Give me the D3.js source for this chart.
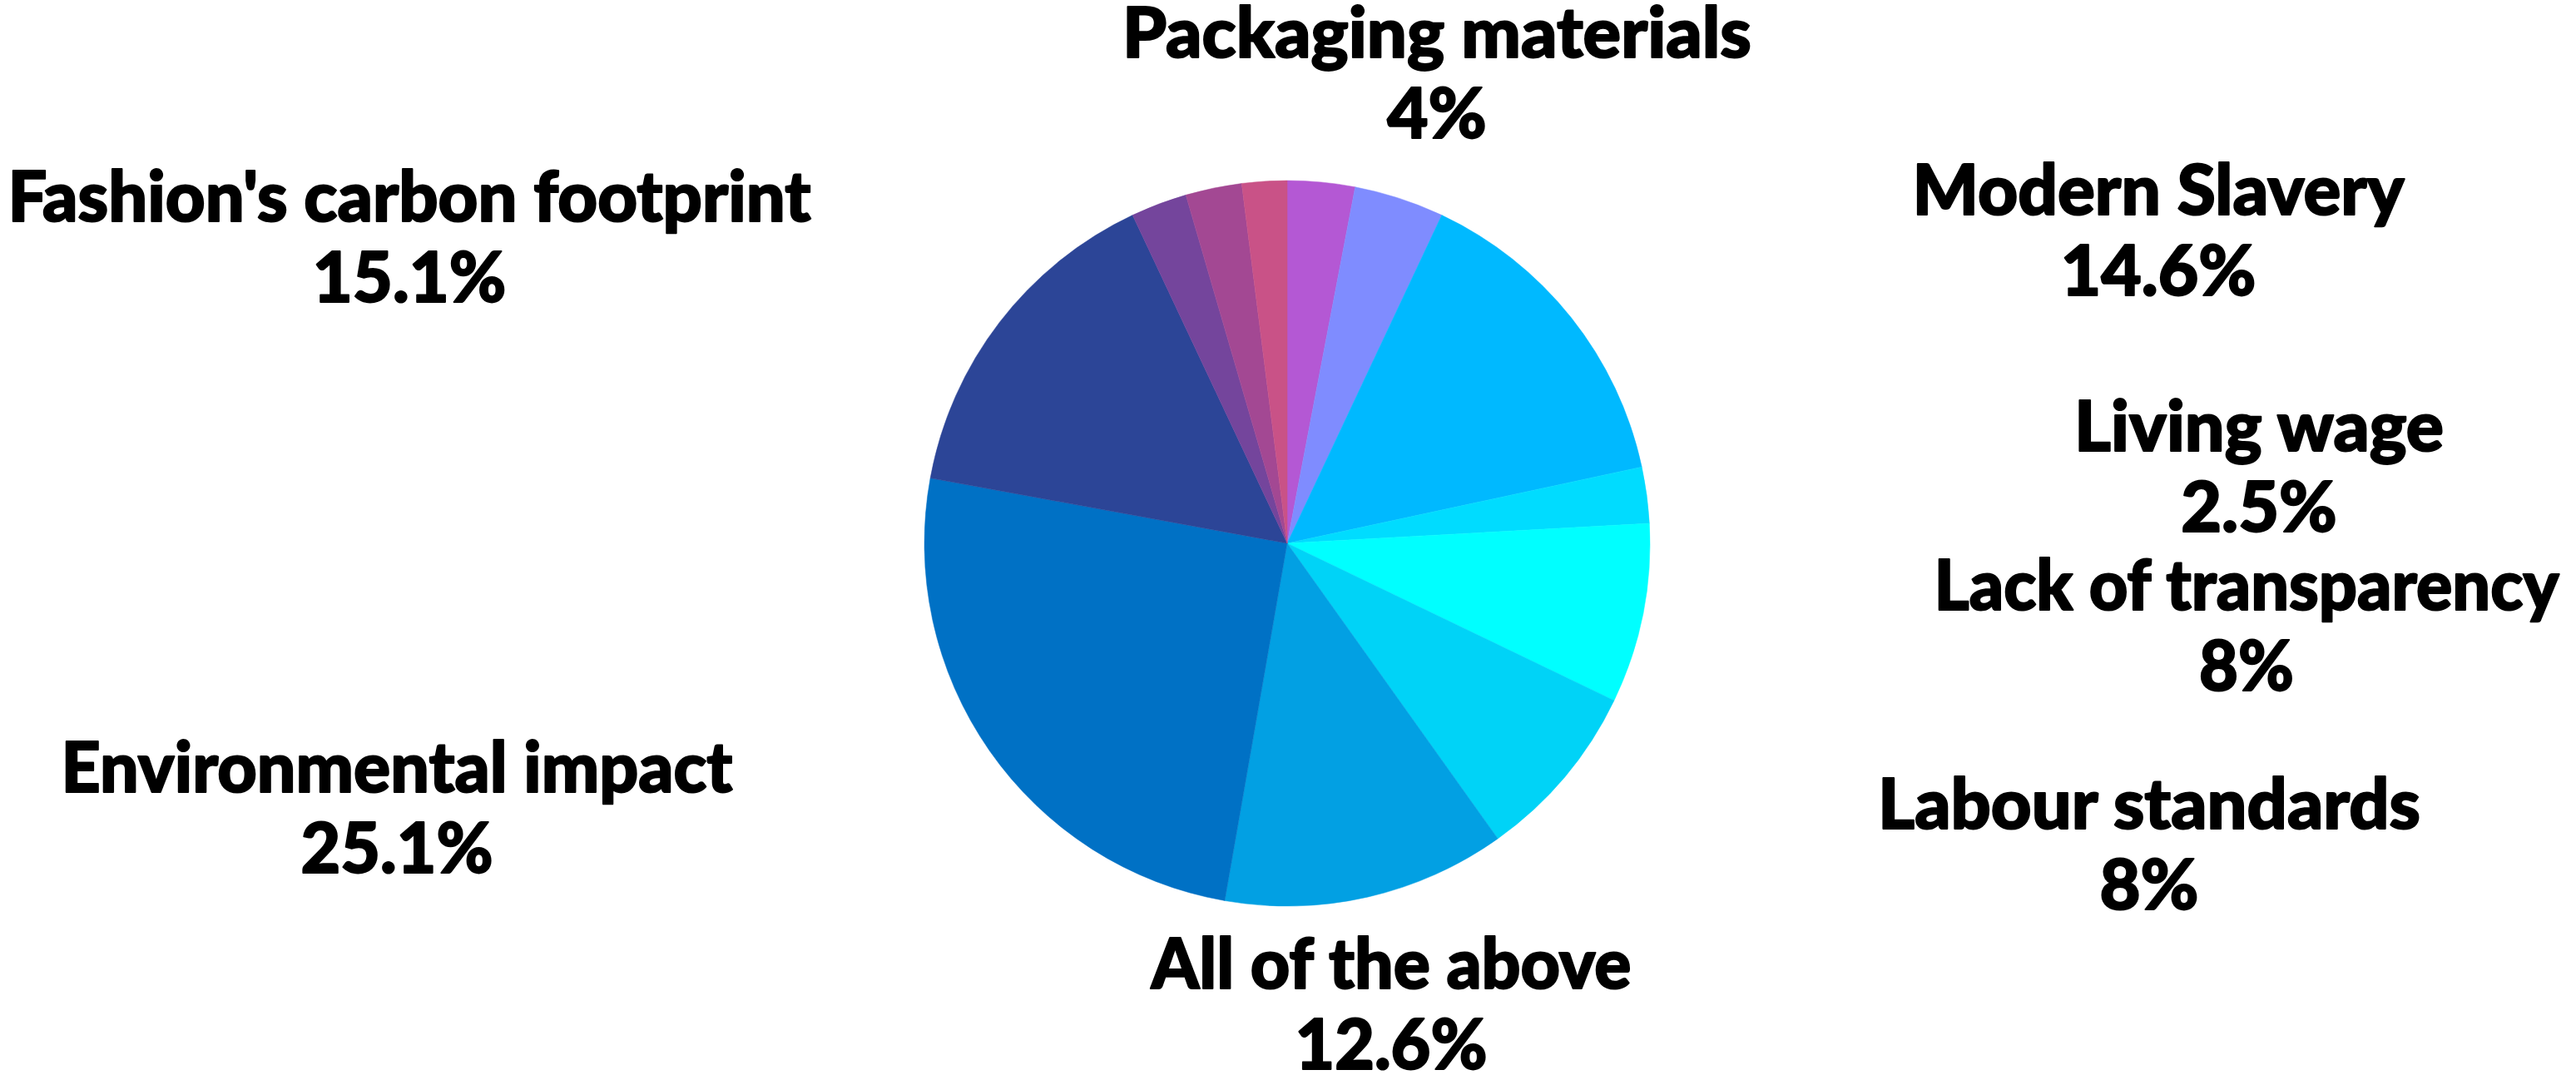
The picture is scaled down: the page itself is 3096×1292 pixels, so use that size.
<!DOCTYPE html>
<html>
<head>
<meta charset="utf-8">
<script src="https://cdn.jsdelivr.net/npm/d3@7"></script>
<style>
  html, body { margin: 0; padding: 0; background: #fff; }
  svg { display: block; }
  .lbl { font-family: "Lato", "DejaVu Sans", sans-serif; font-weight: 900; fill: #000;
         stroke: #000; stroke-width: 2px; stroke-linejoin: round; }
</style>
</head>
<body>
<svg width="3096" height="1292"></svg>
<script>
// slices, clockwise from 12 o'clock
var categories = ["Other 1", "Packaging materials", "Modern Slavery", "Living wage",
                  "Lack of transparency", "Labour standards", "All of the above",
                  "Environmental impact", "Fashion's carbon footprint",
                  "Other 2", "Other 3", "Other 4"];
var values = [3.0, 4, 14.6, 2.5, 8, 8, 12.6, 25.1, 15.1, 2.5, 2.5, 2.0];
var colors = ["#b458d4", "#7f8cff", "#00b9ff", "#00dcff", "#00ffff", "#00d3f7",
              "#02a0e3", "#0071c5", "#2c4597", "#74459c", "#a34893", "#c95287"];
var labelled = ["Packaging materials", "Modern Slavery", "Living wage", "Lack of transparency",
                "Labour standards", "All of the above", "Environmental impact",
                "Fashion's carbon footprint"];

// label layout: centre x, first baseline, width of first line
var labelLayout = {
  "Packaging materials":        [1727, 69, 756],
  "Fashion's carbon footprint": [492, 266, 965],
  "Modern Slavery":             [2594, 258, 591],
  "Living wage":                [2715, 542, 444],
  "Lack of transparency":       [2700, 733, 751],
  "Labour standards":           [2583, 996, 652],
  "Environmental impact":       [477, 952, 807],
  "All of the above":           [1672, 1188, 577]
};

var svg = d3.select("svg"),
    cx = 1547, cy = 653, radius = 436,
    fontSize = 84, lineGap = 97;

var data = categories.map(function(c, i) { return {name: c, value: values[i], color: colors[i]}; });

var pie = d3.pie().sort(null).value(function(d) { return d.value; });
var arc = d3.arc().innerRadius(0).outerRadius(radius);

var g = svg.append("g").attr("transform", "translate(" + cx + "," + cy + ")");

g.selectAll("path").data(pie(data)).enter().append("path")
  .attr("d", arc)
  .attr("fill", function(d) { return d.data.color; })
  .attr("stroke", function(d) { return d.data.color; })
  .attr("stroke-width", 0.5);

// labels
data.filter(function(d) { return labelled.indexOf(d.name) >= 0; }).forEach(function(d) {
  var lay = labelLayout[d.name];
  var lg = svg.append("g");
  var t1 = lg.append("text").attr("class", "lbl")
    .attr("text-anchor", "middle").attr("font-size", fontSize)
    .attr("x", 0).attr("y", 0).text(d.name);
  lg.append("text").attr("class", "lbl")
    .attr("text-anchor", "middle").attr("font-size", fontSize)
    .attr("x", 0).attr("y", lineGap).text(d.value + "%");
  var ratio = lay[2] / t1.node().getComputedTextLength();
  lg.attr("transform", "translate(" + lay[0] + "," + lay[1] + ") scale(" + ratio + ",1)");
});
</script>
</body>
</html>
